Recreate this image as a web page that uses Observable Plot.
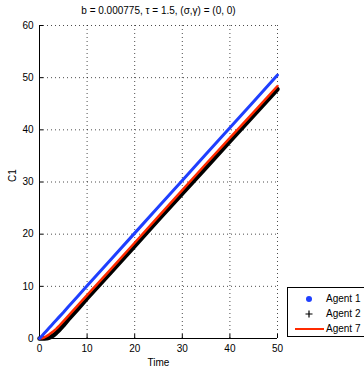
<!DOCTYPE html>
<html><head><meta charset="utf-8">
<script src="https://cdn.jsdelivr.net/npm/d3@7"></script>
<script src="https://cdn.jsdelivr.net/npm/@observablehq/plot@0.6"></script>
<style>
html,body{margin:0;padding:0;background:#fff;overflow:hidden;width:364px;height:372px;}
#wrap{position:relative;width:364px;height:372px;font-family:"Liberation Sans",Arial,sans-serif;}
#legend{position:absolute;left:287px;top:287px;width:90px;height:50px;border:1px solid #000;background:#fff;font-size:10px;box-sizing:border-box;}
.row{position:absolute;left:0;height:14px;width:90px;}
.row svg{position:absolute;left:0;top:0;}
.row span{position:absolute;left:38px;top:1px;line-height:12px;}
</style></head>
<body><div id="wrap"><div id="chart"></div>
<div id="legend"></div></div>
<script>
const title = "b = 0.000775, τ = 1.5, (σ,γ) = (0, 0)";
const xLabel = "Time";
const yLabel = "C1";
const xTicks = [0, 10, 20, 30, 40, 50];
const yTicks = [0, 10, 20, 30, 40, 50, 60];
const time = [0,0.5,1,1.5,2,2.5,3,3.5,4,5,6,8,10,15,20,25,30,35,40,45,50];
const agent1 = [0,0.5,1.0,1.5,2.0,2.5,3.0,3.5,4.0,5.0,6.05,8.05,10.1,15.15,20.2,25.25,30.3,35.35,40.4,45.45,50.5];
const agent2 = [0,0,0,0.05,0.15,0.35,0.65,1.05,1.5,2.5,3.6,5.6,7.7,12.7,17.75,22.8,27.8,32.8,37.8,42.8,47.8];
const agent7 = [0,0.05,0.2,0.45,0.75,1.1,1.45,1.85,2.3,3.3,4.3,6.3,8.3,13.3,18.35,23.4,28.45,33.5,38.45,43.4,48.4];
const seriesNames = ["Agent 1", "Agent 2", "Agent 7"];
const colors = {"Agent 1": "#1f3fff", "Agent 2": "#000000", "Agent 7": "#ff2a00"};

const rows = [];
[agent1, agent2, agent7].forEach((arr, i) => arr.forEach((v, j) => rows.push({t: time[j], v, s: seriesNames[i]})));
const sel = s => rows.filter(d => d.s === s);

const chart = Plot.plot({
  width: 364, height: 372,
  marginLeft: 39, marginRight: 87, marginTop: 25, marginBottom: 34,
  style: {fontFamily: "Liberation Sans, Arial, sans-serif", fontSize: "10px", color: "#000", background: "#fff"},
  x: {domain: [0, 50]},
  y: {domain: [0, 60]},
  marks: [
    Plot.gridX(xTicks, {stroke: "#000", strokeOpacity: 0.7, strokeDasharray: "1,3"}),
    Plot.gridY(yTicks, {stroke: "#000", strokeOpacity: 0.7, strokeDasharray: "1,3"}),
    Plot.axisX(xTicks, {tickSize: -4, tickPadding: 10, label: null, stroke: "#000"}),
    Plot.axisY(yTicks, {tickSize: -4, tickPadding: 10, label: null, stroke: "#000"}),
    Plot.ruleX([0], {stroke: "#000"}),
    Plot.ruleY([0], {stroke: "#000"}),
    Plot.line(sel("Agent 2"), {x: "t", y: "v", stroke: colors["Agent 2"], strokeWidth: 4.5}),
    Plot.line(sel("Agent 7"), {x: "t", y: "v", stroke: colors["Agent 7"], strokeWidth: 2.5}),
    Plot.line(sel("Agent 1"), {x: "t", y: "v", stroke: colors["Agent 1"], strokeWidth: 3}),
    Plot.text([title], {frameAnchor: "top", dy: -15, lineAnchor: "middle", fontSize: 10}),
    Plot.text([xLabel], {frameAnchor: "bottom", dy: 24, lineAnchor: "middle", fontSize: 10}),
    Plot.text([yLabel], {frameAnchor: "left", dx: -27, rotate: -90, lineAnchor: "middle", fontSize: 10})
  ]
});
document.getElementById("chart").appendChild(chart);

const legend = document.getElementById("legend");
const sym = {
  "Agent 1": '<circle cx="21" cy="7" r="3" fill="#1f3fff"/>',
  "Agent 2": '<path d="M17.5,7H24.5M21,3.5V10.5" stroke="#000" stroke-width="1.2"/>',
  "Agent 7": '<line x1="7" y1="7" x2="36" y2="7" stroke="#ff2a00" stroke-width="2"/>'
};
seriesNames.forEach((s, i) => {
  const r = document.createElement("div");
  r.className = "row";
  r.style.top = (4 + i * 15) + "px";
  r.innerHTML = `<svg width="40" height="14">${sym[s]}</svg><span>${s}</span>`;
  legend.appendChild(r);
});
</script></body></html>
